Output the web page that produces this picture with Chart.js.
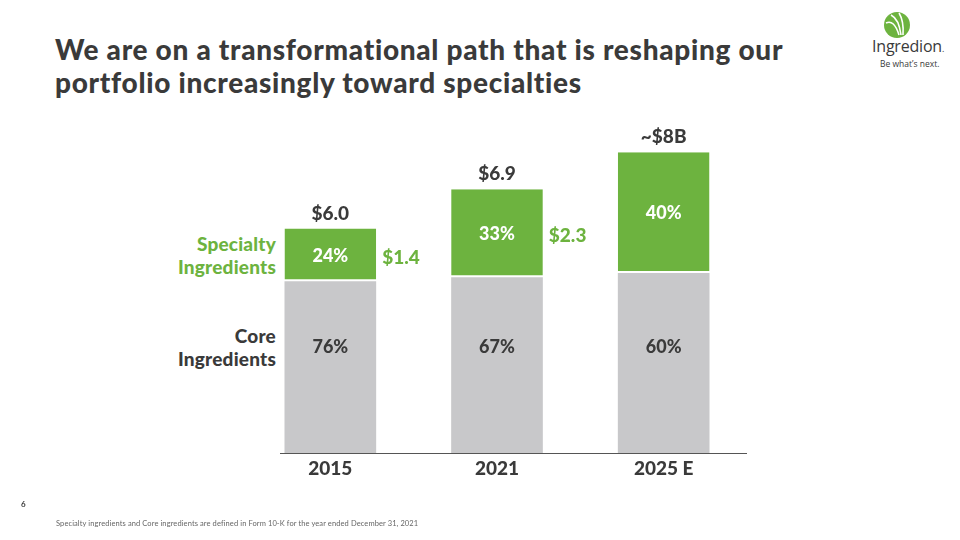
<!DOCTYPE html>
<html>
<head>
<meta charset="utf-8">
<script src="https://cdn.jsdelivr.net/npm/chart.js@4"></script>
<style>
    body { margin: 0; width: 960px; height: 540px; overflow: hidden; background: #fff; font-family: Lato, 'Open Sans', sans-serif; position: relative; }
    #title { position: absolute; left: 55px; top: 33px; font-size: 28px; font-weight: 900; color: #3a3a3a; line-height: 33px; letter-spacing: 0.7px; white-space: nowrap; }
    #chartBox { position: absolute; left: 0; top: 0; width: 960px; height: 540px; }
    .side { position: absolute; font-size: 19px; font-weight: 900; text-align: right; line-height: 23px; right: 684px; letter-spacing: 0.2px; }
    #specLabel { top: 232px; color: #6db33f; }
    #coreLabel { top: 324px; color: #3a3a3a; }
    #logo { position: absolute; left: 866px; top: 8px; width: 90px; }
    #logo .name { position: absolute; left: 6px; top: 27px; font-family: 'Open Sans', sans-serif; font-size: 16px; color: #3a3a3a; letter-spacing: -0.2px; }
    #logo .tag { position: absolute; left: 14px; top: 50px; font-family: 'Open Sans', sans-serif; font-size: 8.5px; color: #3a3a3a; white-space: nowrap; }
    #page { position: absolute; left: 21px; top: 499px; font-size: 8px; font-weight: 700; color: #3a3a3a; }
    #note { position: absolute; left: 56px; top: 519px; font-size: 7.5px; color: #666; letter-spacing: 0.1px; }
</style>
</head>
<body>
<div id="title">We are on a transformational path that is reshaping our<br>portfolio increasingly toward specialties</div>
<div id="logo">
    <svg width="30" height="28" style="position:absolute;left:16px;top:3px" viewBox="0 0 30 28">
        <circle cx="15" cy="14" r="13" fill="#6db33f"/>
        <path d="M4 12 Q12 8 17 24" stroke="#fff" stroke-width="1.6" fill="none"/>
        <path d="M9 4 Q17 8 19 24" stroke="#fff" stroke-width="1.6" fill="none"/>
        <path d="M17 2 Q22 10 21 24" stroke="#fff" stroke-width="1.6" fill="none"/>
    </svg>
    <div class="name">Ingredion<span style="font-size:9px">.</span></div>
    <div class="tag">Be what’s next.</div>
</div>
<div class="side" id="specLabel">Specialty<br>Ingredients</div>
<div class="side" id="coreLabel">Core<br>Ingredients</div>
<div id="chartBox"><canvas id="mixChart"></canvas></div>
<div id="page">6</div>
<div id="note">Specialty ingredients and Core ingredients are defined in Form 10-K for the year ended December 31, 2021</div>

<script>
const years = ['2015', '2021', '2025 E'];
const coreValues = [4.57, 4.68, 4.79];
const specialtyValues = [1.41, 2.34, 3.22];
const corePct = ['76%', '67%', '60%'];
const specialtyPct = ['24%', '33%', '40%'];
const totalLabels = ['$6.0', '$6.9', '~$8B'];
const specialtyDollar = ['$1.4', '$2.3', ''];

const GREEN = '#6db33f';
const GREY = '#c8c8ca';
const DARK = '#3a3a3a';
const FONT = "Lato, 'Open Sans', sans-serif";

// labels drawn on / around the bars
const barLabels = {
    id: 'barLabels',
    afterDatasetsDraw(chart) {
        const ctx = chart.ctx;
        const yScale = chart.scales.y;
        const coreMeta = chart.getDatasetMeta(0);
        const specMeta = chart.getDatasetMeta(1);
        ctx.save();
        ctx.textAlign = 'center';
        ctx.textBaseline = 'middle';

        coreMeta.data.forEach((bar, i) => {
            ctx.font = `900 18px ${FONT}`;
            ctx.fillStyle = DARK;
            ctx.fillText(corePct[i], bar.x, yScale.getPixelForValue(2.82));
        });

        specMeta.data.forEach((bar, i) => {
            ctx.font = `900 18px ${FONT}`;
            ctx.fillStyle = '#fff';
            ctx.fillText(specialtyPct[i], bar.x, (bar.y + bar.base) / 2 + 1);

            ctx.font = `900 19px ${FONT}`;
            ctx.fillStyle = DARK;
            ctx.fillText(totalLabels[i], bar.x, bar.y - 15);

            if (specialtyDollar[i]) {
                ctx.fillStyle = GREEN;
                ctx.textAlign = 'left';
                ctx.fillText(specialtyDollar[i], bar.x + bar.width / 2 + 6, (bar.y + bar.base) / 2 + 3);
                ctx.textAlign = 'center';
            }
        });

        // baseline
        const base = yScale.getPixelForValue(0);
        ctx.strokeStyle = '#555';
        ctx.lineWidth = 1;
        ctx.beginPath();
        ctx.moveTo(280, base + 0.5);
        ctx.lineTo(chart.chartArea.right, base + 0.5);
        ctx.stroke();
        ctx.restore();
    }
};

new Chart(document.getElementById('mixChart').getContext('2d'), {
    type: 'bar',
    data: {
        labels: years,
        datasets: [
            { label: 'Core Ingredients', data: coreValues, backgroundColor: GREY, borderWidth: 0 },
            { label: 'Specialty Ingredients', data: specialtyValues, backgroundColor: GREEN, borderColor: '#fff', borderWidth: { bottom: 2 }, borderSkipped: false }
        ]
    },
    options: {
        responsive: true,
        maintainAspectRatio: false,
        animation: false,
        layout: { padding: { left: 247, right: 213, top: 115, bottom: 0 } },
        datasets: { bar: { categoryPercentage: 1, barPercentage: 0.55 } },
        scales: {
            x: {
                stacked: true,
                grid: { display: false, drawTicks: false },
                border: { display: false },
                ticks: { color: DARK, font: { family: FONT, size: 19, weight: '900' }, padding: 4 },
                afterFit(scale) { scale.height = 87; }
            },
            y: { stacked: true, display: false, min: 0, max: 9 }
        },
        plugins: {
            legend: { display: false },
            tooltip: { enabled: false }
        }
    },
    plugins: [barLabels]
});
</script>
</body>
</html>
